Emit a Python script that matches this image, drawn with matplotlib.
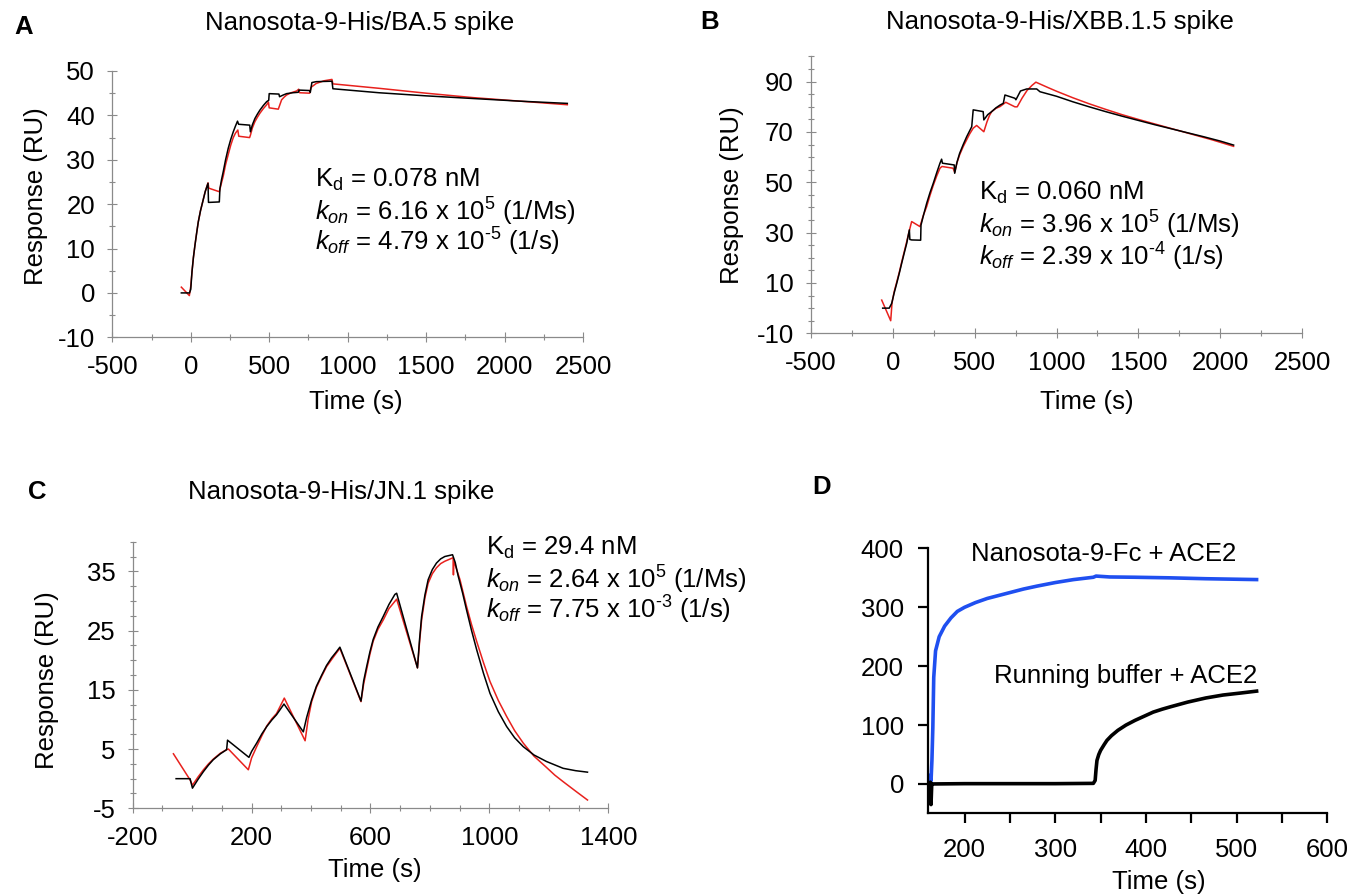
import numpy as np
import matplotlib
matplotlib.use("Agg")
import matplotlib.pyplot as plt
from matplotlib.ticker import MultipleLocator, FixedLocator

plt.rcParams['font.family'] = ['Liberation Sans', 'DejaVu Sans']
plt.rcParams['mathtext.fontset'] = 'custom'
plt.rcParams['mathtext.rm'] = 'Liberation Sans'
plt.rcParams['mathtext.it'] = 'Liberation Sans:italic'
plt.rcParams['axes.unicode_minus'] = False
FS = 18.5

# ---- panel A : BA.5 spike (black / red traces)
a_black_t = [-60, -8, 0, 8, 17, 27, 38, 48, 62, 76, 92, 110, 113, 120, 182, 186, 196, 207, 222, 239, 255, 271,
             285, 298, 305, 376, 380, 393, 409, 425, 441, 462, 484, 497, 500, 562, 566, 590, 611, 650, 685,
             690, 756, 762, 772, 800, 900, 906, 1200, 1500, 1800, 2100, 2400]
a_black_v = [0, 0, 0.8, 4.8, 8.0, 10.8, 13.6, 16.0, 18.5, 20.5, 22.8, 24.7, 20.4, 20.4, 20.5, 23.5, 25.5, 27.3,
             30.0, 32.6, 34.6, 36.3, 37.6, 38.7, 38.0, 37.8, 36.3, 37.9, 39.3, 40.3, 41.2, 42.2, 43.1, 43.4,
             44.9, 44.8, 44.2, 44.6, 44.9, 45.1, 45.2, 45.7, 45.6, 45.2, 47.4, 47.6, 47.7, 46.0, 45.1, 44.4,
             43.8, 43.2, 42.7]
a_red_t = [-60, -9, 0, 8, 17, 27, 38, 48, 62, 76, 92, 110, 115, 182, 196, 207, 222, 239, 255, 271, 285, 300,
           306, 375, 380, 393, 409, 425, 441, 462, 484, 495, 500, 558, 566, 579, 595, 611, 640, 675, 688, 694,
           758, 766, 800, 850, 900, 906, 1200, 1500, 1800, 2100, 2400]
a_red_v = [1.3, -0.6, 1.5, 4.8, 8.0, 10.8, 13.6, 16.0, 18.5, 20.5, 22.8, 24.8, 23.6, 22.8, 24.8, 26.3, 28.9,
           31.2, 33.3, 35.0, 36.0, 36.7, 35.3, 35.0, 35.5, 37.2, 38.6, 39.6, 40.5, 41.5, 42.4, 43.0, 41.7,
           41.4, 42.2, 43.5, 44.1, 44.6, 45.1, 45.5, 45.9, 45.1, 45.0, 46.3, 47.2, 47.8, 48.1, 47.1, 46.1,
           45.0, 44.0, 43.2, 42.4]

# ---- panel B : XBB.1.5 spike
b_black_t = [-62, -22, -7, 8, 24, 40, 54, 70, 85, 101, 104, 115, 170, 172, 190, 207, 227, 247, 268, 288, 298,
             303, 375, 378, 392, 408, 430, 451, 468, 482, 491, 552, 556, 580, 604, 630, 655, 675, 685, 746,
             752, 780, 818, 879, 899, 1000, 1100, 1200, 1300, 1400, 1500, 1600, 1700, 1800, 1900, 2000, 2082]
b_black_v = [0, 0, 1.9, 6.0, 9.9, 14.0, 17.8, 22.0, 25.8, 31.1, 27.3, 27.1, 27.0, 33.0, 37.6, 41.7, 45.9,
             49.6, 53.8, 57.6, 59.2, 57.6, 56.9, 53.6, 58.0, 61.5, 65.0, 68.1, 70.3, 72.1, 78.8, 78.1, 74.8,
             76.9, 78.1, 79.6, 80.7, 81.4, 84.7, 83.4, 82.8, 86.3, 87.1, 87.1, 86.0, 84.2, 82.0, 80.0, 78.1,
             76.3, 74.6, 72.9, 71.3, 69.7, 68.1, 66.4, 64.8]
b_red_t = [-68, -13, -5, 8, 24, 40, 54, 70, 85, 100, 115, 166, 185, 207, 227, 247, 268, 288, 300, 368, 378,
           392, 408, 430, 451, 470, 491, 512, 556, 575, 590, 604, 630, 655, 690, 746, 760, 790, 820, 850, 874,
           950, 1000, 1100, 1200, 1300, 1400, 1500, 1600, 1700, 1800, 1950, 2082]
b_red_v = [3.2, -5.0, 2.0, 6.5, 10.4, 14.4, 18.3, 22.5, 26.5, 30.6, 34.4, 32.4, 36.6, 40.4, 44.8, 48.8, 52.5,
           55.6, 56.3, 55.6, 54.0, 57.8, 60.9, 64.2, 66.9, 69.3, 71.5, 72.6, 70.1, 74.0, 76.5, 78.1, 79.4,
           80.1, 81.8, 80.0, 80.0, 83.5, 86.5, 88.5, 89.8, 87.6, 86.2, 83.6, 81.2, 79.0, 76.9, 75.0, 73.2,
           71.4, 69.6, 66.9, 64.3]

# ---- panel C : JN.1 spike
c_black_t = [-54, -7, 1, 20, 38, 55, 71, 95, 116, 119, 191, 200, 217, 235, 251, 268, 284, 309, 374, 385, 402,
             418, 436, 452, 469, 485, 497, 568, 577, 587, 598, 609, 625, 643, 662, 682, 688, 758, 765, 772,
             783, 794, 808, 822, 836, 850, 876, 885, 895, 910, 923, 940, 957, 980, 1002, 1030, 1058, 1085,
             1114, 1150, 1192, 1248, 1290, 1330]
c_black_v = [0, 0, -1.6, -0.1, 1.2, 2.3, 3.2, 4.2, 4.9, 6.5, 3.6, 4.6, 6.0, 7.6, 8.8, 9.9, 10.8, 12.6, 7.9,
             10.3, 13.3, 15.6, 17.5, 19.1, 20.4, 21.4, 22.2, 13.1, 16.5, 18.9, 21.4, 23.5, 25.6, 27.4, 29.4,
             31.1, 31.3, 18.7, 23.5, 27.4, 31.0, 33.6, 35.3, 36.4, 37.1, 37.5, 37.8, 36.5, 34.2, 31.3, 28.5,
             25.0, 21.8, 17.8, 14.4, 11.3, 8.8, 6.9, 5.4, 4.0, 2.9, 1.75, 1.35, 1.1]
c_red_t = [-63, -7, 1, 20, 38, 55, 71, 95, 116, 122, 189, 200, 217, 235, 251, 268, 284, 310, 380, 390, 402,
           418, 436, 452, 469, 485, 497, 568, 577, 587, 598, 609, 625, 643, 662, 688, 758, 765, 772, 783,
           794, 808, 822, 836, 850, 878, 879, 880, 901, 923, 940, 957, 980, 1002, 1030, 1058, 1085, 1114,
           1150, 1192, 1220, 1248, 1290, 1330]
c_red_v = [4.2, -0.2, -1.1, 0.3, 1.5, 2.5, 3.3, 4.3, 4.9, 5.0, 1.5, 3.5, 5.4, 7.3, 8.9, 10.1, 11.0, 13.6, 6.4,
           10.0, 13.0, 15.4, 17.3, 18.9, 20.1, 21.2, 22.0, 13.0, 16.0, 18.4, 21.0, 23.2, 25.2, 26.8, 28.7,
           30.3, 18.7, 23.0, 26.8, 30.5, 33.0, 34.6, 35.6, 36.3, 36.7, 37.3, 34.4, 36.8, 33.6, 29.1, 26.0,
           23.2, 19.6, 16.4, 13.2, 10.5, 8.1, 6.0, 3.8, 1.9, 0.6, -0.5, -2.1, -3.6]

# ---- panel D : ACE2 competition
d_blue_t = [160.5, 163, 164, 165, 166, 168, 172, 178, 185, 192, 200, 212, 225, 240, 250, 265, 280, 300, 320,
            342, 345, 360, 388, 427, 466, 524]
d_blue_v = [17, 5, 40, 96, 181, 226, 250, 268, 282, 293, 300, 308, 315, 321, 325, 331, 336, 342, 347, 351,
            353, 351.5, 351, 350, 348.5, 347]
d_black_t = [160.5, 161.5, 162.3, 163, 163.8, 165, 200, 300, 342, 344, 345, 346, 348, 350, 354, 357, 362, 369,
             378, 388, 398, 408, 418, 427, 446, 466, 485, 505, 524]
d_black_v = [2, -33, 3, -35, 0, 0, 0.5, 0.5, 1, 6, 25, 40, 50, 57, 67, 74, 82, 91, 100, 108, 115, 122, 127,
             131, 139, 146, 151, 154.5, 158]

W, H = 1369, 896
fig = plt.figure(figsize=(W / 100, H / 100), dpi=100)


def px(x, y):
    return x / W, 1 - y / H


def box(l, t, r, b):
    return [l / W, 1 - b / H, (r - l) / W, (b - t) / H]


RED = '#e8211d'
GRAY = '#8a8a8a'


def style_kin(ax):
    for s in ['top', 'right']:
        ax.spines[s].set_visible(False)
    for s in ['left', 'bottom']:
        ax.spines[s].set_color(GRAY)
        ax.spines[s].set_linewidth(0.9)
    ax.tick_params(which='major', direction='inout', length=7, width=0.8, color=GRAY,
                   labelsize=FS, pad=9)
    ax.tick_params(which='minor', direction='inout', length=4, width=0.8, color=GRAY)


def kin_text(ax, x, ys, kd, kon, koff):
    ax.text(x, ys[0], r'K$_\mathregular{d}$ = ' + kd, fontsize=FS, va='center', ha='left')
    ax.text(x, ys[1], r'$k_{on}$ = ' + kon, fontsize=FS, va='center', ha='left')
    ax.text(x, ys[2], r'$k_{off}$ = ' + koff, fontsize=FS, va='center', ha='left')


# A
ax = fig.add_axes(box(112.3, 71, 583, 337.3))
ax.plot(a_red_t, a_red_v, color=RED, lw=1.1)
ax.plot(a_black_t, a_black_v, color='black', lw=1.1)
ax.set_xlim(-500, 2500)
ax.set_ylim(-10, 50)
ax.xaxis.set_major_locator(MultipleLocator(500))
ax.xaxis.set_minor_locator(MultipleLocator(250))
ax.yaxis.set_major_locator(MultipleLocator(10))
ax.yaxis.set_minor_locator(MultipleLocator(5))
style_kin(ax)
ax.set_xlabel('Time (s)', fontsize=FS)
ax.set_ylabel('Response (RU)', fontsize=FS)
ax.xaxis.set_label_coords(0.518, -0.198)
ax.yaxis.set_label_coords(-0.137, 0.53)
kin_text(ax, 792, [25.4, 18.3, 11.5], '0.078 nM', r'6.16 x 10$^{5}$ (1/Ms)', r'4.79 x 10$^{\text{-5}}$ (1/s)')

# B
ax = fig.add_axes(box(811, 56.5, 1302, 333.3))
ax.plot(b_red_t, b_red_v, color=RED, lw=1.1)
ax.plot(b_black_t, b_black_v, color='black', lw=1.1)
ax.set_xlim(-500, 2500)
ax.set_ylim(-10, 100)
ax.xaxis.set_major_locator(MultipleLocator(500))
ax.xaxis.set_minor_locator(MultipleLocator(250))
ax.yaxis.set_major_locator(FixedLocator([-10, 10, 30, 50, 70, 90]))
ax.yaxis.set_minor_locator(MultipleLocator(5))
style_kin(ax)
ax.set_xlabel('Time (s)', fontsize=FS)
ax.set_ylabel('Response (RU)', fontsize=FS)
ax.xaxis.set_label_coords(0.562, -0.205)
ax.yaxis.set_label_coords(-0.136, 0.5)
kin_text(ax, 524, [45.6, 33.0, 20.4], '0.060 nM', r'3.96 x 10$^{5}$ (1/Ms)', r'2.39 x 10$^{\text{-4}}$ (1/s)')

# C
ax = fig.add_axes(box(132.7, 541.7, 608.3, 808.3))
ax.plot(c_red_t, c_red_v, color=RED, lw=1.1)
ax.plot(c_black_t, c_black_v, color='black', lw=1.1)
ax.set_xlim(-200, 1400)
ax.set_ylim(-5, 40)
ax.xaxis.set_major_locator(FixedLocator([-200, 200, 600, 1000, 1400]))
ax.xaxis.set_minor_locator(MultipleLocator(100))
ax.yaxis.set_major_locator(FixedLocator([-5, 5, 15, 25, 35]))
ax.yaxis.set_minor_locator(MultipleLocator(2.5))
style_kin(ax)
ax.set_xlabel('Time (s)', fontsize=FS)
ax.set_ylabel('Response (RU)', fontsize=FS)
ax.xaxis.set_label_coords(0.51, -0.186)
ax.yaxis.set_label_coords(-0.155, 0.48)
kin_text(ax, 988, [39.0, 33.6, 28.5], '29.4 nM', r'2.64 x 10$^{5}$ (1/Ms)', r'7.75 x 10$^{\text{-3}}$ (1/s)')

# D
ax = fig.add_axes(box(928.3, 548.4, 1327.3, 813.4))
ax.plot(d_blue_t, d_blue_v, color='#1f4ff0', lw=2.6, solid_capstyle='butt')
ax.plot(d_black_t, d_black_v, color='black', lw=2.6, solid_capstyle='butt')
ax.set_xlim(160, 600)
ax.set_ylim(-50, 400)
ax.xaxis.set_major_locator(MultipleLocator(100))
ax.xaxis.set_minor_locator(MultipleLocator(50))
ax.yaxis.set_major_locator(MultipleLocator(100))
for s in ['top', 'right']:
    ax.spines[s].set_visible(False)
for s in ['left', 'bottom']:
    ax.spines[s].set_linewidth(1.6)
ax.tick_params(which='both', direction='out', length=7.5, width=1.6, color='black')
ax.tick_params(which='major', labelsize=FS, pad=10)
ax.set_xlabel('Time (s)', fontsize=FS)
ax.xaxis.set_label_coords(0.577, -0.212)
ax.text(353, 390, 'Nanosota-9-Fc + ACE2', fontsize=FS, ha='center', va='center')
ax.text(378, 184, 'Running buffer + ACE2', fontsize=FS, ha='center', va='center')

# panel titles and letters
for (x, y), s in [((360, 23), 'Nanosota-9-His/BA.5 spike'),
                  ((1060, 22), 'Nanosota-9-His/XBB.1.5 spike'),
                  ((341, 492), 'Nanosota-9-His/JN.1 spike')]:
    fig.text(*px(x, y), s, fontsize=FS, ha='center', va='center')
for (x, y), s in [((24, 27), 'A'), ((710, 22), 'B'), ((37, 492), 'C'), ((822, 487), 'D')]:
    fig.text(*px(x, y), s, fontsize=FS, fontweight='bold', ha='center', va='center')

fig.savefig('out.png', dpi=100)
